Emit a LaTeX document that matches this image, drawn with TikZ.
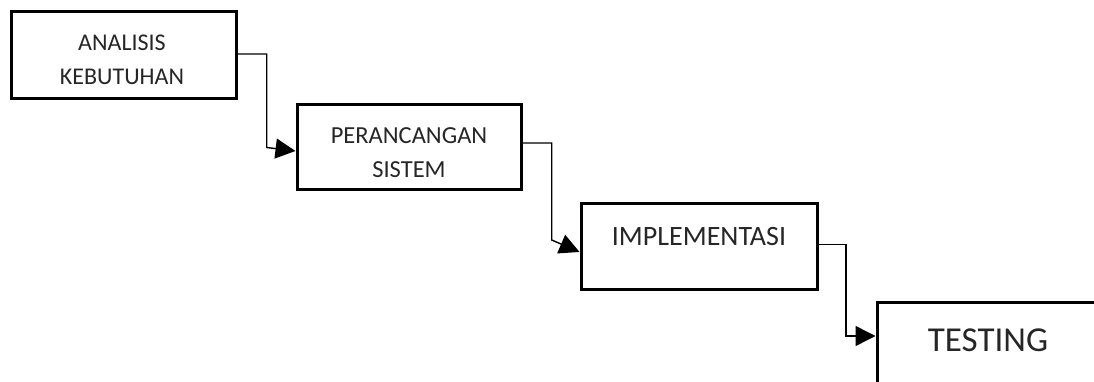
\documentclass[tikz,border=0pt]{standalone}
\usepackage{fontspec}
\setmainfont{Carlito}
\usetikzlibrary{arrows.meta,calc}
\begin{document}
\begin{tikzpicture}[x=1pt,y=-1pt,
  box/.style={draw=black,line width=3pt,fill=white,inner sep=0pt},
  lbl/.style={inner sep=0pt,align=center,text=black!85},
  conn/.style={line width=1.4pt,-{Triangle[length=20pt,width=20pt]}}]
\useasboundingbox (0,0) rectangle (1094,382);
\node[box,minimum width=225pt,minimum height=87pt] (b1) at (123.5,55.5) {};
\node[box,minimum width=224pt,minimum height=85pt] (b2) at (409,147.5) {};
\node[box,minimum width=236pt,minimum height=86pt] (b3) at (699,246) {};
\node[box,minimum width=240pt,minimum height=100pt] (b4) at (997,352) {};
\node[lbl,font=\fontsize{24}{34}\selectfont] (t1) at (122,60) {ANALISIS\\KEBUTUHAN};
\node[lbl,font=\fontsize{24.5}{33.5}\selectfont] (t2) at (409,152.5) {PERANCANGAN\\SISTEM};
\node[lbl,font=\fontsize{28}{34}\selectfont] (t3) at (699,236.7) {IMPLEMENTASI};
\node[lbl,font=\fontsize{35}{40}\selectfont] (t4) at (988,340) {TESTING};
\coordinate (k1) at (266.7,0);
\coordinate (k2) at (551.7,0);
\coordinate (k3) at (846,0);
\draw[conn] ([yshift=1.5pt]b1.east) -| (k1 |- b2.west) -- ([yshift=-3.5pt]b2.west);
\draw[conn] ([yshift=4.5pt]b2.east) -| ($(k2)+(0,240)$) -- ([yshift=-6pt]b3.west);
\draw[conn] ([yshift=1.3pt]b3.east) -| ($(k3)+(0,336)$) -- (b4.west |- 0,336);
\end{tikzpicture}
\end{document}
